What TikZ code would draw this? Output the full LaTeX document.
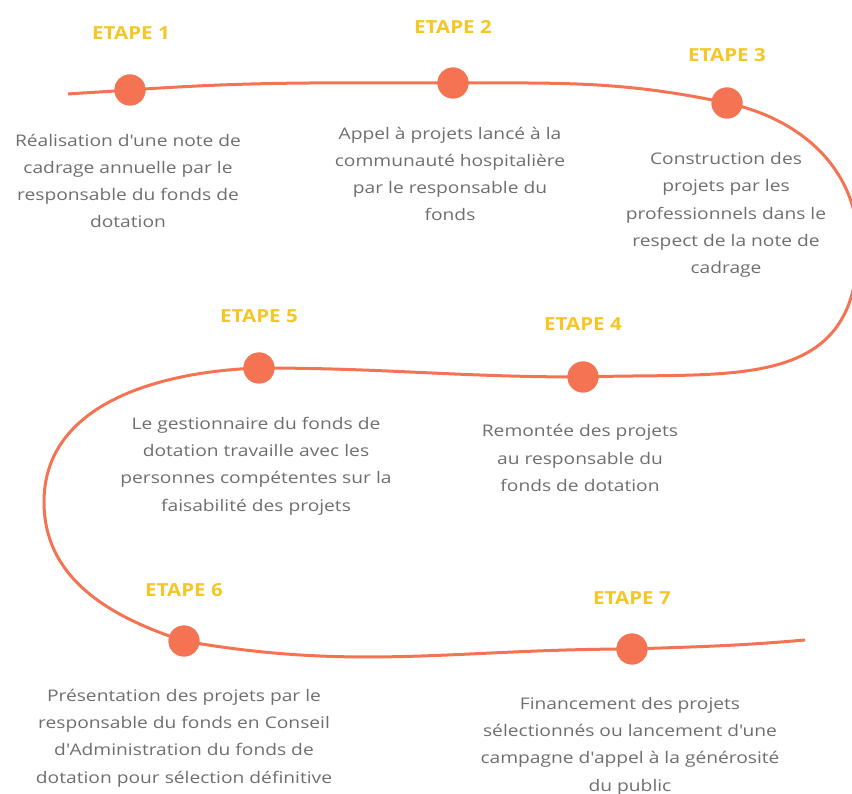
\documentclass[tikz,border=0pt]{standalone}
\usepackage{fontspec}
\setmainfont{Open Sans}[FakeStretch=1.2]
\newfontfamily\titlefont{Open Sans}[FakeStretch=1.14]
\newcommand{\sq}{\XeTeXglyph\XeTeXcharglyph"0027\relax}
\definecolor{coral}{HTML}{F47352}
\definecolor{gold}{HTML}{F6C526}
\definecolor{txt}{HTML}{6E6E6E}
\begin{document}
\begin{tikzpicture}[x=1pt,y=1pt,
  dot/.style={circle,fill=coral,minimum size=31pt,inner sep=0pt},
  steptitle/.style={font=\titlefont\fontsize{18}{21}\selectfont\bfseries,text=gold,inner sep=0pt},
  desc/.style={font=\fontsize{16}{27.3}\selectfont,text=txt,align=center,inner sep=0pt},
  wave/.style={draw=coral,line width=3pt}]
\useasboundingbox (0,0) rectangle (852,-794);
\clip (0,0) rectangle (852,-794);
% path coordinates
\coordinate (s) at (68,-94);
\coordinate (r) at (858,-245);
\coordinate (l) at (44,-502);
\coordinate (e) at (805,-640);
\node[dot] (d1) at (130,-90) {};
\node[dot] (d2) at (453,-83) {};
\node[dot] (d3) at (727,-103) {};
\node[dot] (d4) at (583,-377) {};
\node[dot] (d5) at (259,-368) {};
\node[dot] (d6) at (184,-641) {};
\node[dot] (d7) at (632,-649) {};
\draw[wave] (s) to[out=4,in=184] (d1.center) to[out=4,in=180] (d2.center)
  to[out=0,in=168] (d3.center) to[out=-12,in=90,looseness=1.0] (r)
  to[out=-90,in=2,looseness=1.25] (d4.center) to[out=180,in=0] (d5.center)
  to[out=182,in=90] (l) to[out=-90,in=162] (d6.center)
  to[out=-10,in=180] (d7.center) to[out=2,in=185] (e);
\foreach \n in {d1,d2,d3,d4,d5,d6,d7} \node[dot] at (\n) {};
% titles
\node[steptitle] (t1) at (131,-33) {ETAPE 1};
\node[steptitle] (t2) at (453,-27) {ETAPE 2};
\node[steptitle] (t3) at (727,-55) {ETAPE 3};
\node[steptitle] (t5) at (259,-316) {ETAPE 5};
\node[steptitle] (t4) at (583,-324) {ETAPE 4};
\node[steptitle] (t6) at (184,-590) {ETAPE 6};
\node[steptitle] (t7) at (632,-598) {ETAPE 7};
% descriptions
\node[desc] (x1) at (128,-181) {Réalisation d\sq une note de\\cadrage annuelle par le\\responsable du fonds de\\dotation};
\node[desc] (x2) at (450,-174) {Appel à projets lancé à la\\communauté hospitalière\\par le responsable du\\fonds};
\node[desc] (x3) at (726,-215) {Construction des\\projets par les\\professionnels dans le\\respect de la note de\\cadrage};
\node[desc] (x5) at (256,-466) {Le gestionnaire du fonds de\\dotation travaille avec les\\personnes compétentes sur la\\faisabilité des projets};
\node[desc] (x4) at (580,-458) {Remontée des projets\\au responsable du\\fonds de dotation};
\node[desc] (x6) at (184,-738) {Présentation des projets par le\\responsable du fonds en Conseil\\d\sq Administration du fonds de\\dotation pour sélection définitive};
\node[desc] (x7) at (630,-746) {Financement des projets\\sélectionnés ou lancement d\sq une\\campagne d\sq appel à la générosité\\du public};
\end{tikzpicture}
\end{document}
